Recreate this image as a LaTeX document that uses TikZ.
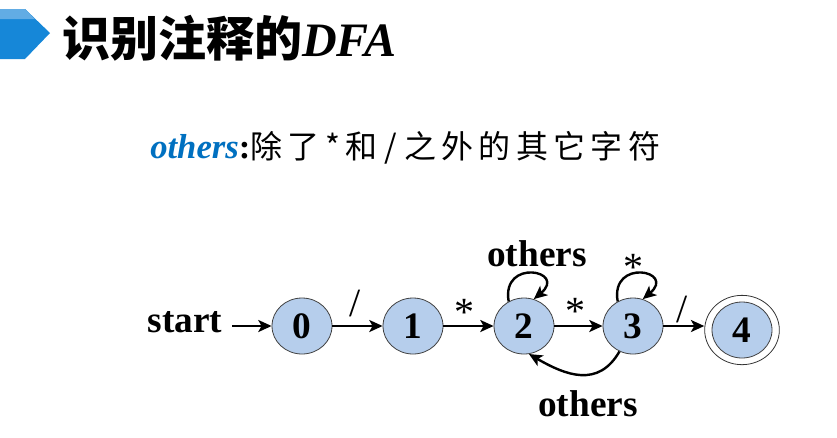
\documentclass[tikz,border=0pt]{standalone}
\usepackage{fontspec}
\setmainfont{Liberation Serif}
\newfontfamily\cjk{Noto Sans CJK SC}
\usetikzlibrary{arrows.meta,shapes.geometric}
\definecolor{hdrblue}{RGB}{22,135,216}
\definecolor{hdrlight}{RGB}{98,172,228}
\definecolor{statefill}{RGB}{182,206,236}
\definecolor{othersblue}{RGB}{0,112,192}
\tikzset{
  state/.style={ellipse, draw=black!75, line width=0.6pt, fill=statefill,
    minimum width=45pt, minimum height=42pt, inner sep=0pt,
    font=\fontsize{28}{28}\selectfont\bfseries},
  outerring/.style={ellipse, draw=black!80, line width=0.6pt, fill=white,
    minimum width=56pt, minimum height=52pt, inner sep=0pt},
  trans/.style={line width=1.8pt, -{Stealth[length=10pt,width=9pt,inset=2.5pt]}},
  lbl/.style={font=\fontsize{28}{28}\selectfont\bfseries, inner sep=0pt},
  sym/.style={font=\fontsize{30}{30}\selectfont, inner sep=0pt}
}
\begin{document}
\begin{tikzpicture}[x=0.75pt,y=0.75pt]
\useasboundingbox (0,0) rectangle (837,-437);
% header marker
\fill[hdrblue] (0,-9) -- (25,-9) -- (50,-33) -- (25,-59) -- (0,-59) -- cycle;
\fill[hdrlight] (0,-9) -- (25,-9) -- (35,-19) -- (0,-19) -- cycle;
\node[anchor=base west, inner sep=0pt] (title) at (62,-56)
  {{\cjk\bfseries\fontsize{36}{36}\selectfont 识别注释的}{\fontsize{36}{36}\selectfont\bfseries\itshape DFA}};
% subtitle
\node[anchor=base west, inner sep=0pt] (sub) at (150,-158)
  {{\fontsize{26}{26}\selectfont\bfseries\itshape\color{othersblue}others}{\fontsize{26}{26}\selectfont\bfseries:}{\cjk\fontsize{24}{24}\selectfont 除\,了\,*\,和\ /\ 之\,外\,的\,其\,它\,字\,符}};
% states
\node[state] (n0) at (302,-326) {0};
\node[state] (n1) at (413,-326) {1};
\node[state] (n2) at (524,-326) {2};
\node[state] (n3) at (633,-326) {3};
\node[outerring] (n4o) at (742,-330) {};
\node[state] (n4) at (742,-330) {4};
% start
\node[lbl, anchor=base] (start) at (185,-332) {start};
\coordinate (s0) at (232,-326);
\draw[trans] (s0) -- (n0);
\draw[trans] (n0) -- (n1);
\draw[trans] (n1) -- (n2);
\draw[trans] (n2) -- (n3);
\draw[trans] (n3.east) -- (n4o.west |- n3.east);
% loops
\draw[trans] (n2.122) to[out=100,in=40,looseness=4.5] (n2.70);
\draw[trans] (n3.122) to[out=100,in=40,looseness=4.5] (n3.70);
% back edge
\draw[trans] (n3.-118) to[out=-120,in=-30,looseness=1.2] (n2.-80);
% labels
\node[sym] (l01) at (355,-303) {/};
\node[sym] (l12) at (464,-312) {*};
\node[sym] (l23) at (575,-311) {*};
\node[sym] (l33) at (633,-267) {*};
\node[sym] (l34) at (682,-310) {/};
\node[lbl, anchor=base] (l22) at (537,-266) {others};
\node[lbl, anchor=base] (l32) at (588,-416) {others};
\end{tikzpicture}
\end{document}
